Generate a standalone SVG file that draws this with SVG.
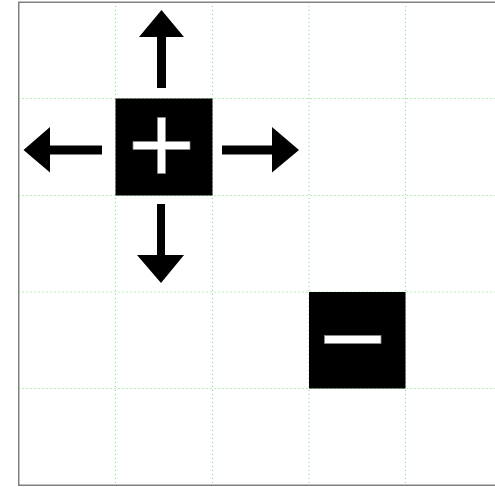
<svg xmlns="http://www.w3.org/2000/svg" width="495" height="487" viewBox="0 0 495 487">
  <style>
    .grid { stroke: #6ee06e; stroke-width: 1; stroke-dasharray: 1 3; fill: none; }
    .frame { stroke: #808080; stroke-width: 1.5; fill: none; }
    .cell { fill: #000; }
    .sign { fill: #fff; stroke: #888; stroke-width: 0.8; }
    .arrow { fill: #000; }
  </style>
  <rect width="495" height="487" fill="#fff"/>
  <!-- grid -->
  <g id="grid">
    <path class="grid" d="M115.5 2V485M212.5 2V485M309 2V485M405.5 2V485M18.5 98.5H495M18.5 195.5H495M18.5 292H495M18.5 388.5H495"/>
  </g>
  <rect class="frame" x="18.75" y="2.25" width="490" height="483"/>
  <!-- positive charge cell -->
  <g id="plus">
    <rect class="cell" x="115.5" y="98.5" width="97" height="97"/>
    <path class="sign" d="M157.5 117.5h8v24h24.5v8h-24.5v24h-8v-24h-24.5v-8h24.5z"/>
  </g>
  <!-- negative charge cell -->
  <g id="minus">
    <rect class="cell" x="309" y="292" width="96.5" height="96.5"/>
    <rect class="sign" x="324.5" y="335.5" width="56.5" height="8"/>
  </g>
  <!-- outward arrows -->
  <g id="arrows">
    <path class="arrow" d="M157 88V37h-18l22.5-27l22.5 27h-18v51z"/>
    <path class="arrow" d="M157 204v51h-20l24 28l23-28h-19v-51z"/>
    <path class="arrow" d="M222 145.5h50v-18.5l27 23l-27 22.5v-18h-50z"/>
    <path class="arrow" d="M102 145.5h-52v-18.5l-26.5 23l26.5 22.5v-18h52z"/>
  </g>
</svg>
